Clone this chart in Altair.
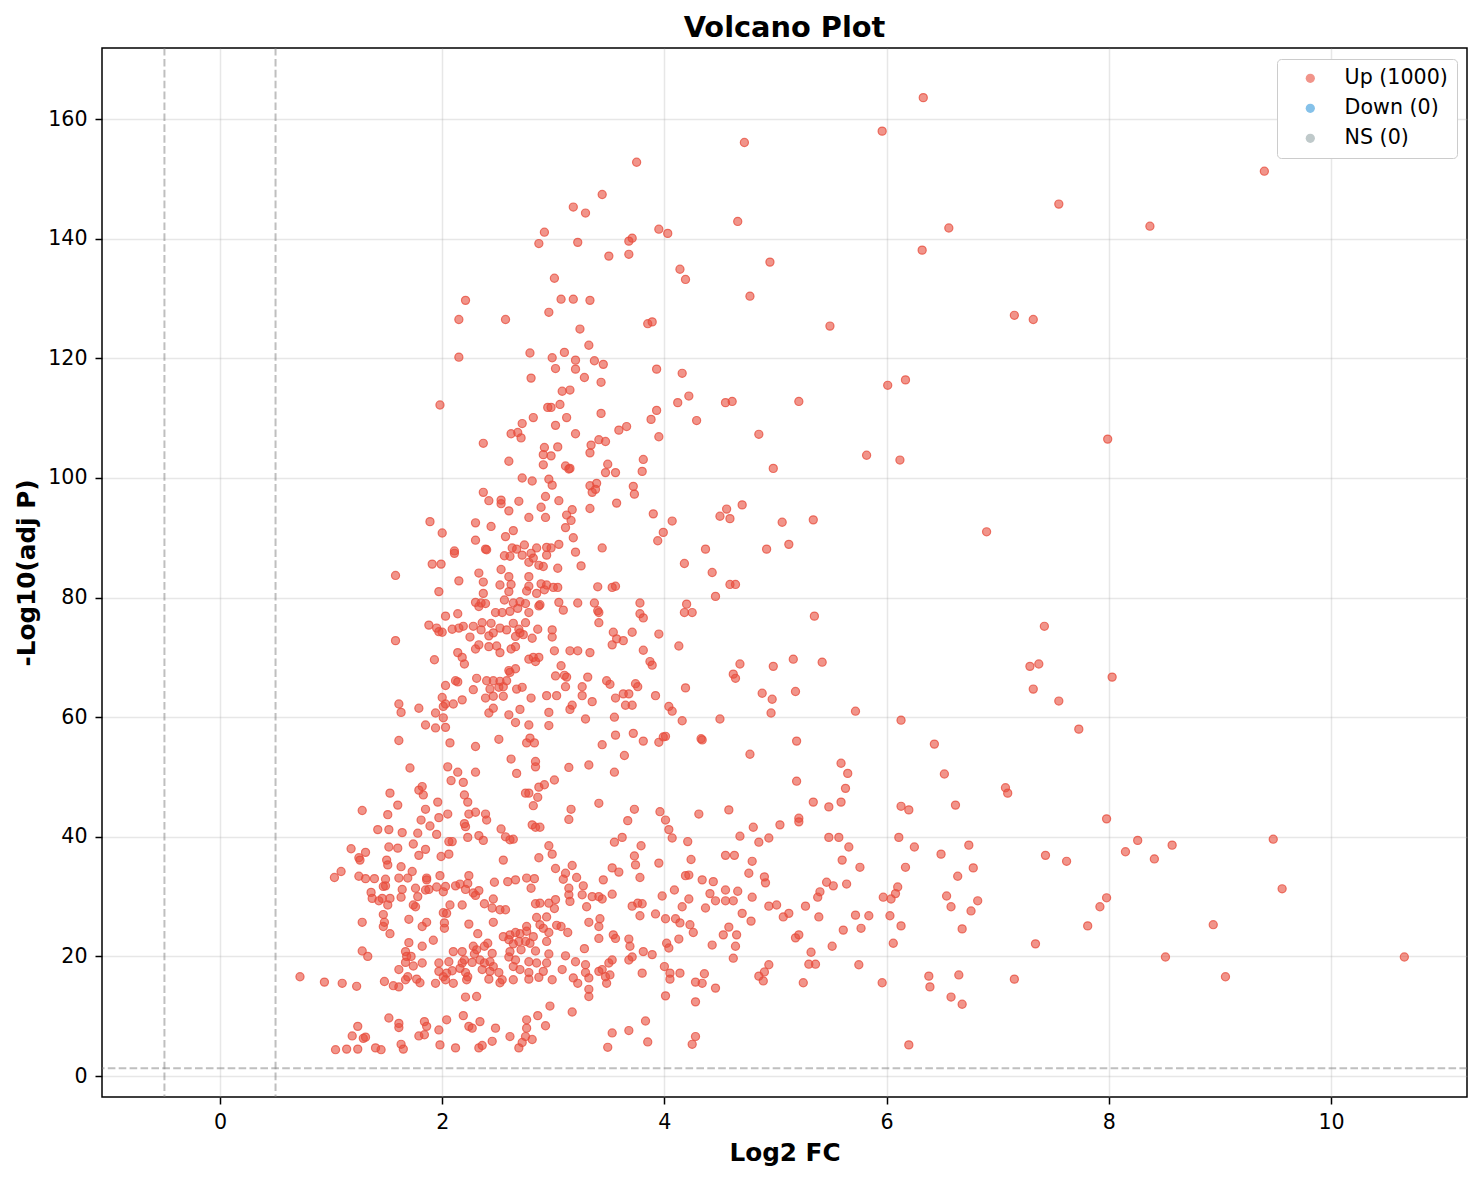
import pandas as pd
import altair as alt

# thresholds drawn as dashed guides
fc_cut = 0.5
p_cut = 1.3

groups = ["Up (1000)", "Down (0)", "NS (0)"]
group_colors = ["#e74c3c", "#3498db", "#95a5a6"]

x_ticks = [0, 2, 4, 6, 8, 10]
y_ticks = [0, 20, 40, 60, 80, 100, 120, 140, 160]

# (log2 fc, -log10 adj p), by region
pts_upper = [
    (3.75,152.8),(3.44,147.4),(3.18,145.3),(3.29,144.3),(2.92,141.1),(2.87,139.2),(3.22,139.4),(3.95,141.6),
    (4.03,140.9),(3.68,139.6),(3.71,140.1),(3.50,137.1),(3.68,137.4),(4.14,134.9),(4.19,133.2),(3.01,133.4),
    (2.21,129.7),(2.15,126.5),(2.57,126.5),(3.07,129.9),(3.18,129.9),(3.33,129.7),(2.96,127.7),(3.85,125.8),
    (3.89,126.1),(3.24,124.9),(3.32,122.2),(2.15,120.2),(2.79,120.9),(2.99,120.1),(3.10,121.0),(3.20,119.7),
    (3.37,119.6),(3.45,119.0),(3.02,118.3),(3.20,118.2),(3.28,116.8),(2.80,116.7),(3.43,116.0),(3.93,118.2),
    (4.16,117.5),(3.08,114.5),(3.15,114.7),(1.98,112.2),(3.06,112.3),(2.95,111.8),(2.98,111.8),(2.82,110.1),
    (2.72,109.1),(3.02,108.8),(3.12,110.1),(3.43,110.8),(3.93,111.3),(3.88,109.8),(4.12,112.6),(4.22,113.7),
    (4.29,109.6),(3.66,108.6),(3.59,108.0),
    (6.33,163.6),(5.96,158.0),(4.72,156.1),(4.66,142.9),(7.55,145.8),(6.56,141.8),(8.37,142.1),(6.32,138.1),
    (4.95,136.1),(4.77,130.4),(5.49,125.4),(7.15,127.2),(7.32,126.5),(6.01,115.5),(6.17,116.4),(4.55,112.6),
    (4.61,112.8),(5.21,112.8),(4.85,107.3),(7.99,106.5),(5.82,103.8),(6.12,103.0),(4.98,101.6),(4.56,94.8),
    (4.70,95.5),(4.50,93.6),(4.59,93.2),(5.06,92.6),(5.34,93.0),(6.90,91.0),(4.92,88.1),(5.12,88.9),
    (9.40,151.3),
]

pts_band = [
    (2.62,107.4),(2.68,107.6),(2.71,106.7),(2.37,105.8),(3.20,107.4),(3.95,106.9),(2.92,105.1),(3.04,105.2),
    (3.34,105.5),(3.41,106.4),(3.47,106.1),(3.33,104.2),(2.91,103.9),(2.98,103.7),(2.60,102.8),(2.91,102.2),
    (3.11,102.0),(3.15,101.6),(3.14,101.5),(3.49,102.3),(3.47,100.9),(3.56,100.9),(3.81,103.1),(3.80,101.1),
    (2.72,100.0),(2.81,99.5),(2.96,99.8),(2.99,98.8),(3.33,98.7),(3.39,99.1),(3.38,98.1),(3.35,97.6),
    (3.72,98.6),(3.73,97.3),(2.37,97.6),(2.42,96.2),(2.53,96.3),(2.53,95.7),(2.69,96.1),(2.60,94.5),
    (2.93,96.9),(2.89,95.1),(3.05,96.2),(3.17,94.7),(3.12,93.8),(3.16,92.9),(3.33,94.9),(3.57,95.8),
    (3.90,94.0),(4.07,92.8),(3.99,90.9),(3.94,89.5),(1.89,92.7),(2.00,90.8),(2.30,92.5),(2.44,91.9),
    (2.78,93.4),(2.93,93.4),(2.64,91.2),(2.57,90.2),(3.11,91.7),(3.18,90.0),(2.30,89.6),(2.11,87.8),
    (2.11,87.4),(2.39,88.1),(2.40,88.0),(2.63,88.3),(2.67,88.1),(2.74,88.8),(2.56,87.0),(2.61,86.9),
    (2.72,87.1),(2.80,87.4),(2.85,88.3),(2.94,88.4),(2.98,88.3),(3.05,88.9),(2.94,87.1),(2.82,86.6),
    (2.78,85.9),(2.87,85.4),(2.91,85.2),(3.20,87.6),(3.44,88.3),(1.91,85.6),(1.99,85.6),(3.04,84.9),
    (3.25,85.3),(4.18,85.7),(4.37,88.1),(1.58,83.7),(2.15,82.8),(2.33,84.1),(2.37,82.6),(2.53,84.7),
    (2.60,83.5),(2.62,82.2),(2.52,82.1),(2.78,83.5),(2.78,81.9),(2.89,82.3),(2.94,82.1),(3.00,81.7),
    (3.04,81.7),(1.97,81.0),(2.37,80.7),(2.60,81.0),(2.76,81.1),(2.85,80.7),(2.92,81.3),(3.40,81.8),
    (3.53,81.7),(3.56,81.9),(4.43,84.2),(4.46,80.2),(2.30,79.2),(2.35,79.1),(2.33,78.5),(2.39,79.0),
    (2.56,79.6),(2.64,79.1),(2.70,79.3),(2.75,79.0),(2.61,77.7),(2.68,78.2),(2.78,77.5),(2.87,78.6),
    (2.88,78.8),(2.48,77.5),(2.54,77.5),(3.05,79.2),(3.09,77.9),(3.22,79.1),(3.37,79.1),(3.40,77.8),
    (3.41,77.5),(3.78,79.1),(4.20,78.9),(4.18,77.5),(4.25,77.5),(2.03,76.9),(2.14,77.3),(1.88,75.4),
    (1.95,74.9),(1.97,74.3),(2.00,74.2),(2.09,74.7),(2.15,74.9),(2.19,75.2),(2.28,75.2),(2.36,75.8),
    (2.44,75.7),(2.35,74.6),(2.46,74.1),(2.52,74.9),(2.58,74.6),(2.64,75.7),(2.69,74.7),(2.75,75.8),
    (2.70,74.1),(2.66,73.5),(2.73,73.8),(2.81,73.2),(2.86,74.7),(2.99,74.6),(2.99,73.4),(2.25,73.4),
    (2.42,73.6),(3.41,75.8),(3.78,77.3),(3.81,76.6),(3.54,74.2),(3.57,73.1),(3.71,74.2),(3.63,72.8),
    (3.95,73.9),(3.53,72.1),(1.58,72.8),(2.30,71.4),(2.33,72.1),(2.42,71.8),(2.49,71.9),(2.52,70.8),
    (2.62,71.4),(2.66,71.8),(2.14,70.8),(2.18,70.0),(2.20,68.9),(1.93,69.6),(2.78,69.7),(2.82,70.0),
    (2.87,70.0),(2.84,69.3),(3.01,71.1),(3.15,71.1),(3.22,71.1),(3.33,70.8),(3.81,71.2),(3.87,69.3),
    (3.89,68.7),(4.13,71.9),(2.66,68.1),(2.60,67.8),(2.61,67.5),(3.02,66.9),(3.07,68.6),(3.10,67.0),
    (3.12,66.7),(3.31,66.7),(3.48,66.1),(3.51,65.5),(3.74,65.6),(3.76,65.1),(2.40,66.1),(2.46,66.1),
    (2.52,66.0),(2.58,66.1),(2.31,66.5),(2.12,66.1),(2.14,65.9),(2.03,65.3),(2.28,64.6),(2.43,64.7),
    (2.51,65.0),(2.55,65.1),(2.67,64.7),(2.72,65.0),(3.11,65.1),(3.26,65.1),(4.19,64.9),(2.00,63.3),
    (2.03,62.2),(2.01,61.8),(2.10,62.2),(2.18,62.9),(1.61,62.2),(1.63,60.8),(1.79,61.5),(2.39,63.2),
    (2.46,63.5),(2.55,63.5),(2.80,63.2),(2.94,63.6),(3.03,63.6),(3.26,63.6),(3.35,62.6),(3.56,63.2),
    (3.63,63.9),(3.68,63.9),(3.92,63.6),(3.65,62.0),(3.71,62.0),(4.04,61.8),(4.07,61.0),(2.42,60.7),
    (2.46,61.5),(2.70,61.3),(2.96,60.8),(3.15,61.3),(3.17,62.0),(1.94,60.7),(1.85,58.7),(1.94,58.2),
    (2.01,59.9),(2.03,58.3),(2.60,60.4),(2.66,59.1),(2.78,58.7),(2.96,58.6),(3.29,59.7),(3.55,60.0),
    (4.16,59.4),(4.50,59.7),(1.61,56.1),(2.07,55.7),(2.30,55.1),(2.51,56.3),(2.76,55.7),(2.79,56.5),
    (2.83,55.7),(3.44,55.4),(3.56,57.0),(3.72,57.3),(3.81,56.0),(3.95,55.8),(3.99,56.7),(4.01,56.8),
    (4.33,56.4),(4.34,56.2),
]

pts_lower = [
    (2.62,53.0),(2.84,52.6),(2.84,51.7),(2.67,50.6),(3.14,51.6),(3.32,52.0),(3.64,53.6),(3.55,50.8),
    (1.71,51.5),(2.05,51.7),(2.14,50.8),(2.30,50.8),(2.08,49.4),(2.19,49.1),(3.01,49.5),(2.92,48.7),
    (2.87,48.3),(1.53,47.3),(1.79,47.8),(1.82,48.4),(1.83,47.0),(1.60,45.3),(1.28,44.4),(1.51,43.7),
    (1.85,44.6),(1.96,45.8),(1.97,43.2),(2.05,43.8),(2.20,47.0),(2.23,45.8),(2.24,43.8),(2.30,44.1),
    (2.39,43.8),(2.40,42.8),(2.75,47.3),(2.78,47.3),(2.86,46.6),(2.82,45.2),(3.16,44.6),(3.14,42.9),
    (3.41,45.6),(3.73,44.6),(3.96,44.2),(3.67,42.7),(4.01,42.8),(4.31,43.8),(1.42,41.2),(1.52,41.2),
    (1.64,40.7),(1.78,40.6),(1.81,42.8),(1.89,41.8),(1.95,40.4),(2.20,42.2),(2.21,41.7),(2.23,39.9),
    (2.33,40.2),(2.37,39.4),(2.53,41.3),(2.57,40.0),(2.64,39.6),(2.61,39.5),(2.81,42.0),(2.84,41.6),
    (2.88,41.6),(3.55,39.1),(3.62,39.9),(4.04,41.2),(4.07,39.8),(4.21,39.2),(1.18,38.0),(1.31,37.4),
    (1.52,38.3),(1.60,38.1),(1.74,38.8),(1.85,37.9),(2.06,39.2),(2.09,39.2),(1.25,36.5),(1.26,36.1),
    (1.50,36.1),(1.51,35.3),(1.63,35.0),(1.79,36.9),(1.99,36.7),(2.06,37.1),(2.55,36.1),(2.87,36.5),
    (2.96,38.5),(2.99,37.1),(3.02,34.7),(3.17,35.2),(3.73,36.8),(3.74,35.3),(3.79,38.5),(3.95,35.6),
    (4.24,36.2),(1.03,33.2),(1.09,34.2),(1.25,33.4),(1.31,33.0),(1.39,33.0),(1.49,32.9),(1.61,33.1),
    (1.69,33.1),(1.73,34.2),(1.86,33.1),(1.98,33.5),(2.24,33.5),(2.23,32.2),(2.47,32.4),(2.59,32.5),
    (2.66,32.8),(2.76,33.1),(2.83,33.0),(2.80,31.4),(3.11,33.9),(3.09,32.9),(3.21,33.2),(3.53,34.8),
    (3.59,34.1),(3.45,32.8),(3.78,33.2),(4.19,33.5),(4.22,33.6),(4.34,32.8),(4.44,32.5),(1.36,30.7),
    (1.37,29.7),(1.46,29.7),(1.47,31.7),(1.49,31.8),(1.53,29.7),(1.63,29.9),(1.64,31.2),(1.76,31.4),
    (1.78,30.0),(1.85,31.1),(1.86,32.8),(1.88,31.2),(1.95,31.6),(2.03,31.7),(2.01,30.8),(2.12,31.8),
    (2.16,32.1),(2.21,31.2),(2.28,30.6),(2.30,30.2),(2.33,31.0),(2.38,28.8),(2.46,29.6),(2.45,28.1),
    (2.52,27.8),(2.57,27.8),(2.84,28.8),(2.88,28.9),(2.96,28.9),(3.02,29.5),(3.01,28.0),(3.14,31.4),
    (3.14,30.3),(3.15,29.2),(3.27,31.8),(3.26,30.3),(3.30,28.3),(3.35,30.0),(3.41,30.0),(3.44,29.6),
    (3.53,30.4),(3.71,28.4),(3.76,28.9),(3.80,28.8),(3.98,30.1),(4.09,31.1),(4.22,29.6),(4.16,28.3),
    (4.37,28.1),(4.41,30.5),(4.46,29.3),(1.43,29.3),(1.51,28.6),(1.74,28.6),(1.76,28.3),(2.07,28.6),
    (2.18,28.6),(2.01,27.3),(2.04,27.2),(1.47,27.0),(1.48,25.7),(1.28,25.7),(1.47,25.0),(1.53,23.8),
    (1.70,26.2),(1.82,25.0),(1.86,25.7),(2.02,25.6),(2.02,24.7),(2.24,25.4),(2.32,23.8),(2.46,25.7),
    (2.76,25.0),(2.85,26.5),(2.94,26.6),(2.88,25.3),(2.91,24.7),(2.96,24.0),(3.03,25.2),(3.07,25.0),
    (3.13,24.0),(3.32,25.7),(3.42,26.3),(3.41,25.0),(3.78,26.8),(3.92,27.1),(4.01,26.3),(4.10,26.3),
    (4.14,25.6),(4.23,25.3),(4.26,24.0),(2.55,23.3),(2.61,23.6),(2.66,24.0),(2.70,23.8),(2.76,24.2),
    (2.82,23.3),(1.70,22.3),(1.67,20.8),(1.68,20.0),(1.72,20.0),(1.82,21.7),(1.92,22.7),(2.10,20.8),
    (2.18,20.8),(2.20,19.4),(2.28,21.7),(2.31,21.1),(2.29,20.4),(2.38,21.7),(2.41,22.2),(2.45,20.5),
    (2.60,22.8),(2.64,22.1),(2.69,22.5),(2.75,22.5),(2.79,22.2),(2.71,21.1),(2.61,20.8),(2.60,19.9),
    (2.66,19.4),(2.84,20.9),(2.94,22.5),(2.96,20.4),(3.11,20.1),(3.28,21.3),(3.41,23.0),(3.54,23.6),
    (3.56,23.0),(3.68,22.9),(3.69,21.7),(3.71,19.9),(3.81,20.8),(3.89,20.3),(4.02,22.2),(4.04,21.4),
    (4.13,22.9),(4.43,21.9),(1.28,20.9),(1.33,20.0),(1.61,17.8),(1.67,19.0),(1.74,18.4),(1.82,18.9),
    (1.97,18.9),(2.06,19.1),(2.18,18.9),(2.27,19.0),(2.34,19.4),(2.38,18.9),(2.43,19.1),(2.46,18.3),
    (2.16,18.0),(2.21,17.3),(2.09,17.6),(1.97,17.5),(2.01,16.6),(2.04,17.2),(2.36,17.8),(2.43,17.5),
    (2.51,17.3),(2.64,18.3),(2.70,17.8),(2.78,17.3),(2.78,19.1),(2.85,18.9),(2.94,18.9),(2.91,17.5),
    (3.08,17.8),(3.20,19.1),(3.29,18.6),(3.29,17.3),(3.41,17.5),(3.44,17.8),(3.50,18.9),(3.53,19.4),
    (3.68,19.4),(3.80,17.2),(4.00,18.3),(4.05,17.2),(4.14,17.2),(4.36,17.1),(0.72,16.6),(0.94,15.7),
    (1.10,15.5),(1.23,15.0),(1.48,15.8),(1.56,15.1),(1.61,14.9),(1.67,16.1),(1.69,16.6),(1.77,16.2),
    (1.80,15.6),(1.94,15.5),(2.03,16.1),(2.10,15.5),(2.22,16.1),(2.23,16.6),(2.42,16.2),(2.52,15.6),
    (2.54,16.1),(2.64,16.1),(2.78,16.2),(2.87,16.5),(2.99,16.1),(3.18,16.4),(3.22,15.5),(3.32,16.4),
    (3.32,14.5),(3.47,16.6),(3.51,16.9),(3.48,15.5),(4.05,16.2),(4.28,15.7),(4.34,15.5),(4.46,14.7),
    (2.21,13.2),(2.31,13.3),(3.32,13.3),(2.97,11.7),(3.17,10.7),(4.01,13.4),(4.28,12.4),(1.52,9.7),
    (1.61,8.8),(1.84,9.1),(2.04,9.4),(2.19,10.1),(2.34,9.1),(2.76,9.4),(2.86,10.1),(3.83,9.2),
    (1.24,8.3),(1.19,6.7),(1.29,6.3),(1.31,6.5),(1.61,8.1),(1.86,8.3),(1.97,7.7),(1.79,6.7),
    (1.84,6.9),(2.24,8.3),(2.27,8.0),(2.48,8.0),(2.76,8.0),(2.93,8.4),(3.53,7.2),(3.68,7.6),
    (2.61,6.6),(2.75,6.6),(2.72,5.6),(2.81,6.1),(2.45,5.8),(1.04,4.4),(1.14,4.5),(1.24,4.5),
    (1.40,4.7),(1.45,4.4),(1.63,5.3),(1.65,4.5),(1.98,5.2),(2.12,4.7),(2.33,4.7),(2.36,5.1),
    (2.69,4.7),(3.49,4.8),(3.85,5.7),(4.25,5.3),(4.28,6.6),
]

pts_right = [
    (4.59,82.2),(4.64,82.2),(5.35,76.9),(7.42,75.2),(4.68,68.9),(4.62,67.2),(4.64,66.5),(4.98,68.5),
    (5.16,69.7),(5.42,69.2),(7.29,68.5),(7.37,68.9),(8.03,66.7),(7.32,64.7),(7.55,62.7),(4.88,64.0),
    (4.97,63.0),(5.18,64.3),(4.96,60.7),(5.72,61.0),(6.13,59.5),(7.73,58.0),(5.19,56.0),(4.77,53.8),
    (6.43,55.5),(5.59,52.3),(5.65,50.6),(6.52,50.5),(5.19,49.3),(5.63,48.1),(7.07,48.2),(7.09,47.3),
    (4.58,44.5),(5.34,45.8),(5.48,45.0),(5.59,45.8),(6.13,45.1),(6.20,44.5),(6.62,45.3),(7.98,43.0),
    (5.21,43.1),(5.21,42.5),(4.80,41.6),(5.04,42.0),(4.68,40.1),(4.85,39.1),(4.94,39.8),(5.48,39.9),
    (5.57,39.9),(6.11,39.9),(5.66,38.3),(6.25,38.3),(6.74,38.6),(6.49,37.1),(7.43,36.9),(7.62,35.9),
    (8.15,37.5),(8.26,39.4),(8.41,36.3),(8.57,38.6),(4.55,36.9),(4.63,36.9),(4.79,35.9),(5.60,36.1),
    (5.76,34.9),(6.17,34.9),(6.78,34.8),(4.76,33.9),(4.90,33.3),(4.91,32.3),(6.64,33.4),(5.46,32.4),
    (5.52,31.8),(5.64,32.1),(6.10,31.6),(6.08,30.5),(6.04,29.6),(5.97,29.9),(4.55,31.1),(4.66,30.9),
    (4.55,29.3),(4.62,29.3),(4.79,29.9),(5.40,30.8),(5.38,29.9),(6.54,30.1),(7.98,29.8),(7.92,28.3),
    (6.82,29.3),(6.58,28.3),(6.76,27.6),(4.94,28.4),(5.01,28.6),(5.27,28.4),(4.70,27.2),(5.07,26.6),
    (5.12,27.2),(5.39,26.6),(5.72,26.9),(5.84,26.8),(6.03,26.8),(4.78,25.9),(4.58,24.9),(4.53,23.6),
    (4.65,23.6),(5.77,24.7),(5.61,24.4),(6.13,25.1),(6.68,24.6),(7.81,25.1),(5.18,23.1),(5.21,23.6),
    (4.64,21.7),(5.51,21.7),(6.06,22.2),(7.34,22.1),(4.62,19.7),(5.32,20.7),(5.30,18.7),(5.36,18.7),
    (4.94,18.6),(5.75,18.6),(4.85,16.7),(4.90,17.4),(4.89,15.9),(5.25,15.6),(5.96,15.6),(6.38,16.7),
    (6.39,14.9),(6.65,16.9),(7.15,16.2),(6.58,13.2),(6.68,12.0),(6.20,5.2),
    (9.48,39.6),(9.56,31.3),(8.94,25.3),(9.05,16.6),(8.51,19.9),(10.66,19.9),
]

all_pts = pts_upper + pts_band + pts_lower + pts_right
genes = pd.DataFrame(all_pts, columns=["log2fc", "nlp"])
genes["group"] = groups[0]

x_scale = alt.Scale(domain=[-1.062, 11.224], nice=False, zero=False)
y_scale = alt.Scale(domain=[-3.51, 171.9], nice=False, zero=False)

axis_style = dict(format="d", titleFontSize=24.7, titleFontWeight="bold", labelFontSize=20.6,
                  tickSize=7, tickWidth=1.5, tickColor="black", labelColor="black", titleColor="black",
                  domain=False, gridColor="#b0b0b0", gridOpacity=0.3, gridWidth=1.5)
x_axis = alt.Axis(values=x_ticks, title="Log2 FC", labelPadding=8, titlePadding=8, **axis_style)
y_axis = alt.Axis(values=y_ticks, title="-Log10(adj P)", labelPadding=8, titlePadding=8, **axis_style)

points = alt.Chart(genes).mark_point(filled=True, size=66, fillOpacity=0.6, strokeOpacity=0.75,
                                     stroke=group_colors[0], strokeWidth=1.2, shape="circle").encode(
    x=alt.X("log2fc:Q", scale=x_scale, axis=x_axis),
    y=alt.Y("nlp:Q", scale=y_scale, axis=y_axis),
    color=alt.Color("group:N", scale=alt.Scale(domain=groups, range=group_colors),
                    legend=alt.Legend(title=None, orient="none", legendX=1175, legendY=11,
                                      labelFontSize=20.6, labelColor="black", symbolType="circle",
                                      symbolSize=85, symbolOpacity=0.6, symbolStrokeWidth=0,
                                      rowPadding=9, labelOffset=24, symbolOffset=14, padding=9,
                                      strokeColor="#cccccc", fillColor="white", cornerRadius=4)),
)

vlines = pd.DataFrame({"x": [-fc_cut, fc_cut]})
hline = pd.DataFrame({"y": [p_cut]})

guide_style = dict(color="gray", opacity=0.5, strokeDash=[7.6, 3.3], strokeWidth=2)
vrule = alt.Chart(vlines).mark_rule(**guide_style).encode(x=alt.X("x:Q", scale=x_scale))
hrule = alt.Chart(hline).mark_rule(**guide_style).encode(y=alt.Y("y:Q", scale=y_scale))

chart = alt.layer(points, vrule, hrule).properties(
    width=1365, height=1049,
    title=alt.Title("Volcano Plot", fontSize=28.8, fontWeight="bold", color="black", anchor="middle", offset=4),
    autosize=alt.AutoSizeParams(type="none"),
    padding={"left": 94, "top": 40, "right": 7, "bottom": 75},
).configure(font="DejaVu Sans").configure_view(stroke="black", strokeWidth=1.5)

chart.save("out.html", embed_options={"renderer": "svg", "actions": False})
